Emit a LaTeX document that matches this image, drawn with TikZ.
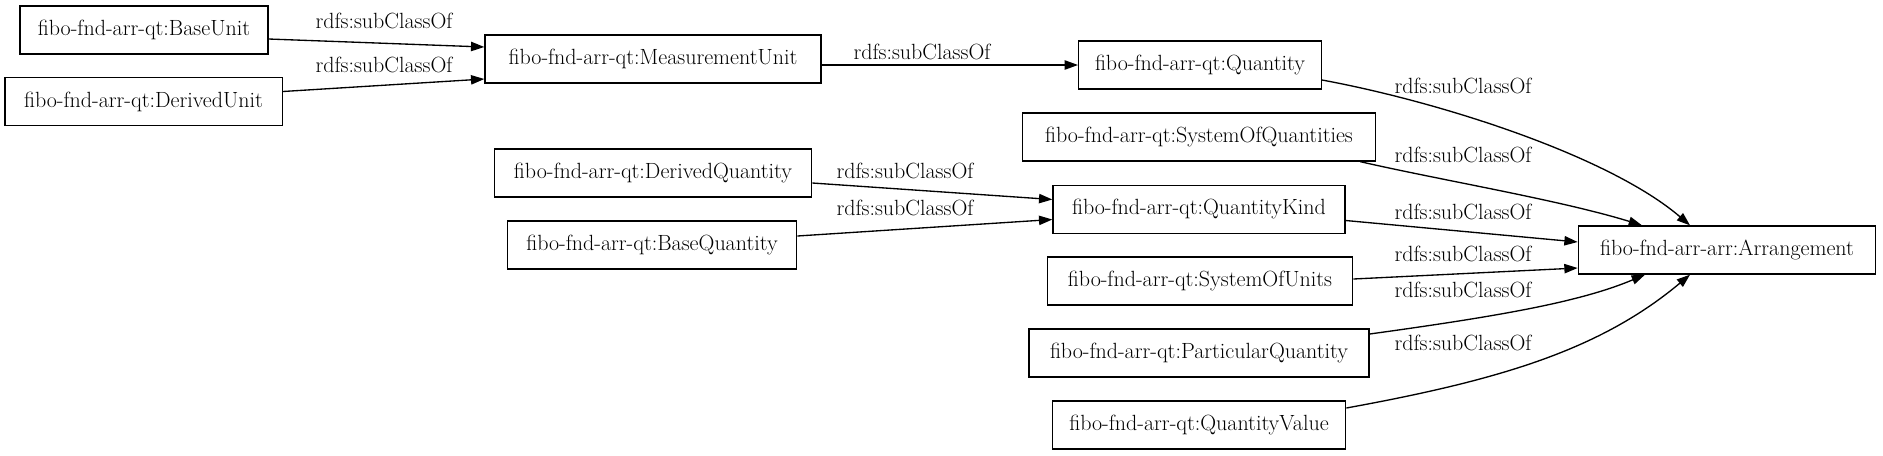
\documentclass[tikz,border=0pt]{standalone}
\usetikzlibrary{arrows.meta,calc}
\begin{document}
\begin{tikzpicture}[x=0.75pt,y=-0.75pt,
  cls/.style={draw,line width=1pt,inner sep=0pt,minimum height=36pt,font=\fontsize{16.5}{19}\selectfont},
  lbl/.style={font=\fontsize{16.5}{19}\selectfont,inner sep=0pt},
  sub/.style={line width=1pt,-{Triangle[length=10pt,width=7pt]}}]
\useasboundingbox (0,0) rectangle (1883,455);
\node[cls,minimum width=186pt] (bu)  at (144,30)    {fibo-fnd-arr-qt:BaseUnit};
\node[cls,minimum width=208pt] (du)  at (143.5,101.5) {fibo-fnd-arr-qt:DerivedUnit};
\node[cls,minimum width=252pt] (mu)  at (653,59)  {fibo-fnd-arr-qt:MeasurementUnit};
\node[cls,minimum width=182pt] (q)   at (1200,65)   {fibo-fnd-arr-qt:Quantity};
\node[cls,minimum width=265pt] (soq) at (1199,137)  {fibo-fnd-arr-qt:SystemOfQuantities};
\node[cls,minimum width=238pt] (dq)  at (653,173)   {fibo-fnd-arr-qt:DerivedQuantity};
\node[cls,minimum width=219pt] (qk)  at (1199,209.5) {fibo-fnd-arr-qt:QuantityKind};
\node[cls,minimum width=217pt] (bq)  at (652,245)   {fibo-fnd-arr-qt:BaseQuantity};
\node[cls,minimum width=223pt] (arr) at (1727,250)  {fibo-fnd-arr-arr:Arrangement};
\node[cls,minimum width=229pt] (sou) at (1200,281)  {fibo-fnd-arr-qt:SystemOfUnits};
\node[cls,minimum width=255pt] (pq)  at (1199,353)  {fibo-fnd-arr-qt:ParticularQuantity};
\node[cls,minimum width=220pt] (qv)  at (1199,425)  {fibo-fnd-arr-qt:QuantityValue};

\draw[sub] ($(bu.east)+(0,9)$) -- ($(mu.west)+(0,-12)$);
\node[lbl] (l1) at (384,21) {rdfs:subClassOf};
\draw[sub] ($(du.east)+(0,-10)$) -- ($(mu.west)+(0,20)$);
\node[lbl] (l2) at (384,65) {rdfs:subClassOf};
\draw[sub] ($(mu.east)+(0,6)$) -- ($(q.west)+(0,0)$);
\node[lbl] (l3) at (922,52) {rdfs:subClassOf};
\draw[sub] ($(q.east)+(0,15)$) .. controls (1441,102) and (1609,156) .. ($(arr.north)+(-37,0)$);
\node[lbl] (l4) at (1463,86) {rdfs:subClassOf};
\draw[sub] ($(soq.south east)+(-16,0)$) .. controls (1440,180) and (1560,200) .. ($(arr.north)+(-85,0)$);
\node[lbl] (l5) at (1463,155) {rdfs:subClassOf};
\draw[sub] ($(dq.east)+(0,10)$) -- ($(qk.west)+(0,-10)$);
\node[lbl] (l6) at (905,171) {rdfs:subClassOf};
\draw[sub] ($(bq.east)+(0,-9)$) -- ($(qk.west)+(0,10)$);
\node[lbl] (l7) at (905,208) {rdfs:subClassOf};
\draw[sub] ($(qk.east)+(0,11)$) -- ($(arr.west)+(0,-8)$);
\node[lbl] (l8) at (1463,212) {rdfs:subClassOf};
\draw[sub] ($(sou.east)+(0,-2)$) -- ($(arr.west)+(0,18)$);
\node[lbl] (l9) at (1463,254) {rdfs:subClassOf};
\draw[sub] ($(pq.east)+(0,-19)$) .. controls (1500,316) and (1580,302) .. ($(arr.south)+(-82,0)$);
\node[lbl] (l10) at (1463,290) {rdfs:subClassOf};
\draw[sub] ($(qv.east)+(0,-17)$) .. controls (1500,380) and (1600,350) .. ($(arr.south)+(-37,0)$);
\node[lbl] (l11) at (1463,343) {rdfs:subClassOf};
\end{tikzpicture}
\end{document}
